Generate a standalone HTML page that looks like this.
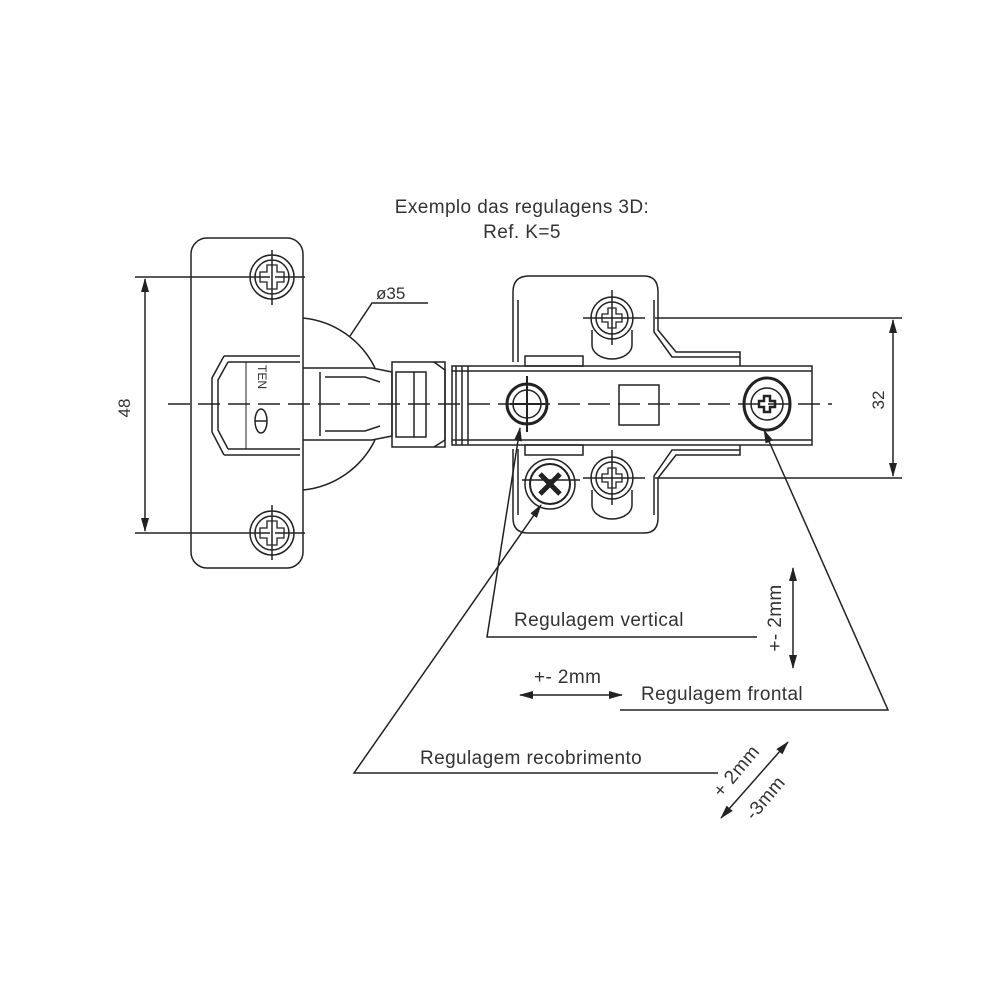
<!DOCTYPE html>
<html><head><meta charset="utf-8"><style>
body{margin:0;background:#fff}
svg{display:block}
text{font-family:"Liberation Sans",sans-serif;fill:#333}
.t{font-size:19px;letter-spacing:0.4px}
</style></head><body>
<svg width="1000" height="1000" viewBox="0 0 1000 1000" xmlns="http://www.w3.org/2000/svg">
<defs>
<marker id="ar" markerWidth="14" markerHeight="8" refX="13" refY="4" orient="auto" markerUnits="userSpaceOnUse"><path d="M0,0 L14,4 L0,8 Z" fill="#222"/></marker>
<marker id="al" markerWidth="14" markerHeight="8" refX="1" refY="4" orient="auto" markerUnits="userSpaceOnUse"><path d="M14,0 L0,4 L14,8 Z" fill="#222"/></marker>
</defs>
<text x="522" y="213" class="t" text-anchor="middle">Exemplo das regulagens 3D:</text>
<text x="522" y="238" class="t" text-anchor="middle">Ref. K=5</text>

<g fill="none" stroke="#222" stroke-width="1.5">
<line x1="168" y1="404" x2="832" y2="404" stroke-dasharray="22,8"/>
<rect x="191" y="238" width="112" height="330" rx="16"/>
<path d="M303,318 A90,90 0 0 1 375,368"/>
<path d="M303,490 A90,90 0 0 0 375,440"/>
<path d="M224,356 L300,356 M224,455 L300,455 M224,356 L212,378 L212,432 L224,455"/>
<path d="M228,362 L300,362 M228,449 L300,449 M228,362 L218,380 L218,430 L228,449"/>
<line x1="246" y1="362" x2="246" y2="449" stroke-width="1"/>
<text x="0" y="0" font-size="12" stroke="none" transform="translate(258,365) rotate(90)">TEN</text>
<ellipse cx="261" cy="421" rx="6" ry="12"/>
<line x1="255" y1="421" x2="267" y2="421"/>
<path d="M303,368 L372,368 L392,372 L392,436 L372,440 L303,440"/>
<path d="M320,372 L320,436 M325,377 L365,377 L380,382 M325,431 L365,431 L380,426"/>
<rect x="392" y="362" width="53" height="85"/>
<rect x="396" y="372" width="30" height="65"/>
<line x1="414" y1="372" x2="414" y2="437"/>
<path d="M434,362 L445,370 L445,440 L434,447"/>
<rect x="452" y="366" width="360" height="79"/>
<line x1="456" y1="366" x2="456" y2="445"/>
<line x1="462" y1="366" x2="462" y2="445"/>
<line x1="468" y1="366" x2="468" y2="445"/>
<line x1="452" y1="371" x2="812" y2="371"/>
<line x1="452" y1="440" x2="812" y2="440"/>
<rect x="619" y="385" width="40" height="40"/>
<path d="M513,362 L513,292 Q513,276 529,276 L644,276 Q658,276 658,292 L658,330 L676,352 L740,352 L740,366"/>
<path d="M518,362 L518,300 M654,300 L654,332 L672,357 L740,357"/>
<path d="M513,449 L513,518 Q513,533 528,533 L644,533 Q658,533 658,518 L658,478 L676,455 L740,455 L740,445"/>
<path d="M518,449 L518,515 M654,515 L654,476 L672,450 L740,450"/>
<rect x="525" y="356" width="58" height="10"/>
<rect x="525" y="445" width="58" height="10"/>
<g>
<circle cx="272" cy="277" r="22"/><circle cx="272" cy="277" r="17"/>
<path d="M267,272 L267,265 L277,265 L277,272 L284,272 L284,282 L277,282 L277,289 L267,289 L267,282 L260,282 L260,272 Z" stroke-width="1.3"/>
<line x1="240" y1="277" x2="305" y2="277" stroke-dasharray="30,5"/>
<line x1="272" y1="250" x2="272" y2="305"/>
</g>
<g>
<circle cx="272" cy="533" r="22"/><circle cx="272" cy="533" r="17"/>
<path d="M267,528 L267,521 L277,521 L277,528 L284,528 L284,538 L277,538 L277,545 L267,545 L267,538 L260,538 L260,528 Z" stroke-width="1.3"/>
<line x1="240" y1="533" x2="305" y2="533" stroke-dasharray="30,5"/>
<line x1="272" y1="505" x2="272" y2="560"/>
</g>
<g>
<path d="M592,330 L592,345 A20,14 0 0 0 632,345 L632,330"/>
<circle cx="612" cy="318" r="21"/><circle cx="612" cy="318" r="16"/>
<path d="M608,314 L608,308 L616,308 L616,314 L622,314 L622,322 L616,322 L616,328 L608,328 L608,322 L602,322 L602,314 Z" stroke-width="1.3"/>
<line x1="583" y1="318" x2="645" y2="318"/>
<line x1="612" y1="290" x2="612" y2="345"/>
</g>
<g>
<path d="M592,490 L592,505 A20,14 0 0 0 632,505 L632,490"/>
<circle cx="612" cy="478" r="21"/><circle cx="612" cy="478" r="16"/>
<path d="M608,474 L608,468 L616,468 L616,474 L622,474 L622,482 L616,482 L616,488 L608,488 L608,482 L602,482 L602,474 Z" stroke-width="1.3"/>
<line x1="583" y1="478" x2="645" y2="478"/>
<line x1="612" y1="450" x2="612" y2="505"/>
</g>
<circle cx="527" cy="404" r="20" stroke-width="3"/>
<circle cx="527" cy="404" r="14"/>
<line x1="527" y1="376" x2="527" y2="432" stroke-width="2"/>
<line x1="510" y1="404" x2="545" y2="404" stroke-width="2"/>
<ellipse cx="767" cy="404" rx="23" ry="26" stroke-width="3"/>
<circle cx="767" cy="404" r="16"/>
<path d="M764,396 L770,396 L770,401 L775,401 L775,407 L770,407 L770,412 L764,412 L764,407 L759,407 L759,401 L764,401 Z" stroke-width="2.5"/>
<circle cx="550" cy="484" r="25"/><circle cx="550" cy="484" r="20" stroke-width="2"/>
<path d="M540,474 L560,494 M560,474 L540,494" stroke-width="5"/>
<line x1="522" y1="480" x2="580" y2="480"/>
<line x1="135" y1="277" x2="240" y2="277"/>
<line x1="135" y1="533" x2="240" y2="533"/>
<line x1="145" y1="279" x2="145" y2="531" marker-start="url(#al)" marker-end="url(#ar)"/>
<line x1="655" y1="318" x2="902" y2="318"/>
<line x1="655" y1="478" x2="902" y2="478"/>
<line x1="893" y1="320" x2="893" y2="476" marker-start="url(#al)" marker-end="url(#ar)"/>
<path d="M428,303 L372,303 L350,336"/>
<path d="M520,428 L487,637 L757,637" marker-start="url(#al)"/>
<path d="M541,505 L354,773 L718,773" marker-start="url(#al)"/>
<path d="M764,430 L888,710 L620,710" marker-start="url(#al)"/>
<line x1="793" y1="568" x2="793" y2="668" marker-start="url(#al)" marker-end="url(#ar)"/>
<line x1="520" y1="695" x2="622" y2="695" marker-start="url(#al)" marker-end="url(#ar)"/>
<line x1="721" y1="818" x2="788" y2="742" marker-start="url(#al)" marker-end="url(#ar)"/>
</g>
<text x="130" y="408" font-size="17" text-anchor="middle" transform="rotate(-90 130 408)">48</text>
<text x="884" y="400" font-size="17" text-anchor="middle" transform="rotate(-90 884 400)">32</text>
<text x="376" y="299" font-size="17">ø35</text>
<text x="514" y="626" class="t">Regulagem vertical</text>
<text x="641" y="700" class="t">Regulagem frontal</text>
<text x="420" y="764" class="t">Regulagem recobrimento</text>
<text x="534" y="683" class="t">+- 2mm</text>
<text x="781" y="618" class="t" text-anchor="middle" transform="rotate(-90 781 618)">+- 2mm</text>
<text x="741" y="775" class="t" text-anchor="middle" transform="rotate(-50 741 775)">+ 2mm</text>
<text x="770" y="802" class="t" text-anchor="middle" transform="rotate(-50 770 802)">-3mm</text>
</svg>
</body></html>
